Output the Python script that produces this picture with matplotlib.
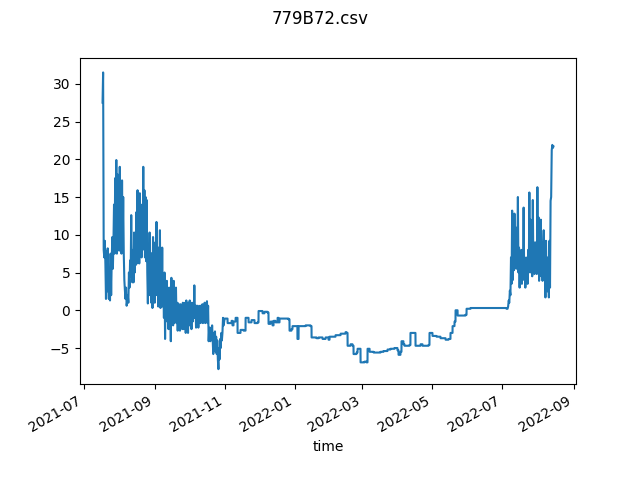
import numpy as np
import pandas as pd
import matplotlib
matplotlib.use("Agg")
import matplotlib.pyplot as plt

TITLE = "779B72.csv"

# first noisy stretch, one reading every 12h from 2021-07-17 12:00
start_a = "2021-07-17 12:00"
vals_a = [
    27.5, 31.5, 8.0, 7.0, 9.2, 6.0, 1.5, 7.8, 2.5, 8.2,
    4.0, 1.5, 5.5, 1.3, 7.5, 2.0, 6.6, 9.7, 5.5, 9.0,
    14.0, 7.5, 17.5, 8.0, 19.9, 7.5, 18.0, 9.0, 16.0, 7.9,
    19.0, 8.5, 14.0, 7.5, 17.2, 8.0, 15.0, 7.5, 4.0, 2.6,
    1.5, 3.0, 0.6, 1.2, 2.0, 1.0, 5.0, 3.0, 6.6, 4.5,
    12.6, 5.0, 3.7, 8.0, 3.7, 10.3, 5.0, 9.0, 6.0, 13.0,
    6.2, 15.9, 7.0, 13.0, 6.2, 15.5, 7.9, 12.0, 7.0, 14.0,
    8.0, 19.0, 9.0, 15.9, 7.0, 15.0, 6.5, 14.6, 5.0, 0.9,
    6.0, 2.0, 10.3, 3.0, 7.6, 1.0, 6.0, 0.3, 9.7, 2.0,
    8.0, 1.0, 9.0, 3.0, 11.7, 2.0, 8.0, 0.5, 8.3, 1.5,
    10.6, 0.3, 7.0, 1.0, 8.3, 0.5, 3.0, -1.0, 5.0, -3.8,
    3.5, 0.0, 3.9, -1.5, 2.0, -2.5, 3.0, -0.5, 1.5, -4.1,
    4.3, -1.0, 2.5, -2.0, 3.9, -1.7, 2.0, -1.0, 3.0, -1.7,
    1.0, -2.7, 0.9, -2.0, 0.5, -2.7, 0.8, -1.5, 0.0, -2.5,
    1.0, -2.5, 0.5, -1.5, 1.0, -3.0, 1.3, -1.0, 0.5, -3.0,
    1.0, -2.0, 1.3, -1.0, 0.0, -2.5, 1.0, -1.5, 0.5, -1.0,
    3.3, -1.0, 0.6, -2.3, 0.6, -1.5, 0.6, -2.3, 0.0, -1.0,
    0.6, -1.7, 0.6, -1.0, 0.8, -1.7, 0.6, -0.5, 1.0, -1.7,
    0.6, -1.0, 1.2, -1.7, 0.6, -4.1, -2.3, -3.0, -4.1, -2.3,
    -3.5, -2.0, -4.0, -5.8, -3.0, -4.5, -2.8, -5.5, -3.5, -5.8,
    -4.0, -6.5, -7.8, -5.0, -6.5, -3.8, -5.0, -3.0, -4.0, -3.0,
    -1.0, -2.0,
]

# quiet stretch: days after 2021-07-01 and the value that holds from then on
mid_days = [
    122.9, 125.5, 129.0, 129.8, 130.7, 132.5, 134.2, 136.8, 139.4, 141.2,
    143.8, 146.4, 149.0, 151.6, 152.5, 156.0, 157.7, 160.3, 161.2, 163.0,
    164.7, 165.6, 167.3, 169.1, 169.9, 170.8, 176.0, 178.6, 179.5, 181.2,
    182.1, 185.6, 186.4, 187.4, 193.5, 197.8, 198.7, 203.1, 204.8, 208.3,
    210.9, 213.5, 214.4, 219.6, 224.0, 228.3, 229.2, 230.1, 232.7, 234.4,
    235.3, 237.9, 238.8, 240.5, 241.4, 244.9, 246.6, 247.5, 248.4, 249.3,
    252.8, 256.3, 258.8, 261.4, 264.9, 267.5, 271.0, 273.6, 274.5, 276.2,
    277.1, 278.8, 279.7, 284.1, 284.9, 288.4, 289.3, 293.7, 295.4, 300.7,
    301.5, 304.1, 307.6, 311.1, 315.5, 318.1, 319.8, 321.6, 323.3, 324.2,
    326.0, 330.3, 332.9, 333.8, 337.3, 346.0, 354.7, 363.4, 368.6,
]
mid_vals = [
    -1.1, -1.7, -1.4, -2.0, -1.5, -1.0, -3.0, -2.6, -2.7, -1.0,
    -1.6, -1.3, -1.7, -1.6, -0.1, -0.4, -0.2, -0.3, -1.8, -1.5,
    -2.0, -1.4, -1.6, -1.0, -1.6, -1.1, -1.1, -1.2, -2.7, -2.5,
    -2.1, -2.1, -3.8, -2.1, -2.0, -2.1, -3.6, -3.7, -3.6, -3.8,
    -3.6, -3.9, -3.5, -3.3, -3.1, -2.9, -3.0, -4.7, -4.5, -4.7,
    -5.8, -5.6, -5.1, -5.1, -6.9, -6.8, -6.9, -5.1, -5.1, -5.5,
    -5.6, -5.6, -5.5, -5.4, -5.2, -5.1, -5.0, -5.3, -5.9, -5.5,
    -4.1, -4.5, -4.7, -4.6, -3.0, -3.0, -4.7, -4.5, -4.7, -4.6,
    -3.0, -3.4, -3.5, -3.7, -3.9, -3.8, -3.0, -2.1, -1.5, 0.0,
    -0.7, -0.7, -0.6, 0.2, 0.3, 0.3, 0.3, 0.3, 0.2,
]

# second noisy stretch, every 12h from 2022-07-05 12:00
start_b = "2022-07-05 12:00"
vals_b = [
    0.2, 0.5, 1.3, 1.0, 2.6, 2.0, 7.0, 3.5, 13.2, 4.0,
    11.0, 5.3, 12.8, 6.0, 11.0, 5.5, 9.0, 6.0, 15.0, 5.0,
    8.3, 3.0, 7.5, 4.5, 8.0, 3.5, 7.0, 5.0, 13.6, 4.0,
    7.0, 3.0, 6.5, 4.0, 7.0, 3.5, 8.0, 5.0, 15.6, 6.0,
    12.0, 5.0, 9.0, 4.5, 14.6, 5.5, 8.0, 4.8, 9.0, 5.0,
    7.5, 4.8, 16.3, 6.0, 12.3, 3.9, 10.0, 5.0, 12.0, 4.5,
    9.0, 3.9, 8.0, 10.6, 4.0, 8.0, 1.7, 9.2, 3.0, 7.0,
    2.5, 6.0, 1.7, 9.2, 3.0, 14.5, 15.0, 21.2, 21.9, 21.5,
    21.7,
]

t_a = pd.date_range(start_a, periods=len(vals_a), freq="12h")
t_b = pd.date_range(start_b, periods=len(vals_b), freq="12h")

# sensor holds its last reading until the next change -> sharp steps
origin = pd.Timestamp("2021-07-01")
t_mid, v_mid = [], []
for i, (d, v) in enumerate(zip(mid_days, mid_vals)):
    t_mid.append(origin + pd.Timedelta(days=d))
    v_mid.append(v)
    if i + 1 < len(mid_days):
        t_mid.append(origin + pd.Timedelta(days=mid_days[i + 1]) - pd.Timedelta(hours=2))
        v_mid.append(v)

times = t_a.append(pd.DatetimeIndex(t_mid)).append(t_b)
values = np.array(vals_a + v_mid + vals_b)

fig, ax = plt.subplots(figsize=(6.4, 4.8), dpi=100)
ax.plot(times, values, color="C0")
ax.set_xlabel("time")
fig.suptitle(TITLE)
fig.autofmt_xdate()

fig.savefig("out.png")
